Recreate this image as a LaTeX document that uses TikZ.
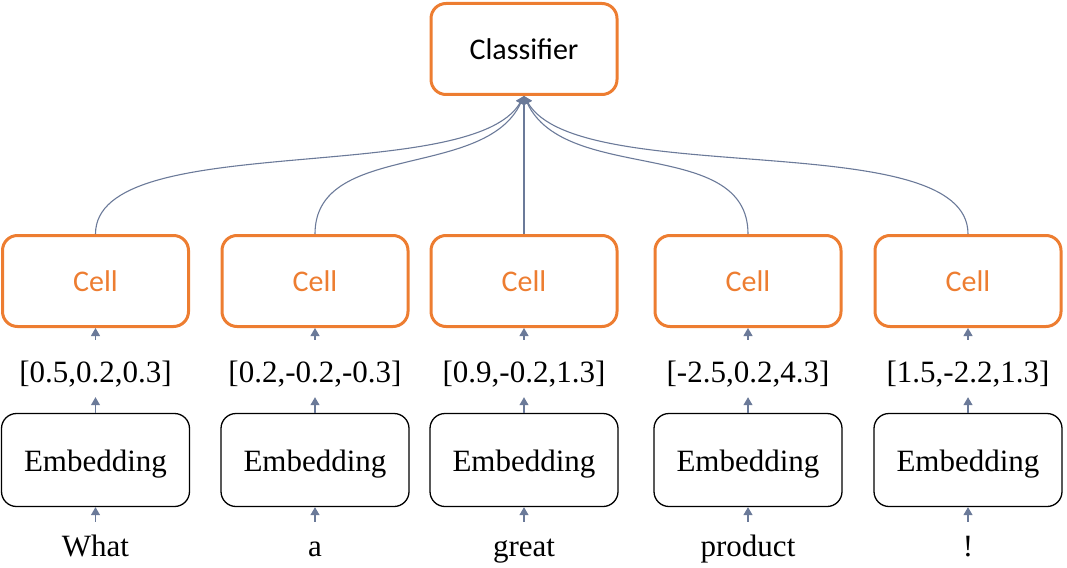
\documentclass[tikz,border=0pt]{standalone}
\usepackage{fontspec}
\usepackage{xcolor}
\usepackage{tikz}
\usetikzlibrary{arrows.meta}
\setmainfont{Liberation Serif}
\newfontfamily\calibri{Carlito}
\definecolor{cellorange}{HTML}{ED7D31}
\definecolor{arrowgrey}{HTML}{6B7A99}

\begin{document}
\begin{tikzpicture}[x=1pt, y=1pt]
    % Define the style for the nodes
    \tikzstyle{cell} = [draw=cellorange, line width=3pt, rounded corners=15pt, minimum width=186pt, minimum height=91pt, text=cellorange, font=\calibri\fontsize{30}{36}\selectfont]
    \tikzstyle{embed} = [draw=black, line width=1.3pt, rounded corners=15pt, minimum width=188pt, minimum height=93pt, text height=22pt, text depth=0pt, font=\fontsize{31}{37}\selectfont]
    \tikzstyle{vec} = [text height=21pt, text depth=7pt, inner ysep=8pt, font=\fontsize{31}{37}\selectfont]
    \tikzstyle{word} = [text height=20pt, text depth=6pt, inner ysep=14pt, font=\fontsize{31}{37}\selectfont]
    \tikzstyle{line} = [draw=arrowgrey, line width=1.1pt, -{Triangle[width=9pt,length=8pt]}]

    \useasboundingbox (0,0) rectangle (1067,-567);

    % Place the nodes
    \node [cell, text=black] (classifier) at (524,-49) {Classifier};

    \node [cell] (cellA) at (95.5,-281) {Cell};
    \node [cell] (cellB) at (315,-281) {Cell};
    \node [cell] (cellC) at (524,-281) {Cell};
    \node [cell] (cellD) at (748,-281) {Cell};
    \node [cell] (cellE) at (968,-281) {Cell};

    \node [vec, below of=cellA, node distance=94pt] (vecA) {[0.5,0.2,0.3]};
    \node [vec, below of=cellB, node distance=94pt] (vecB) {[0.2,-0.2,-0.3]};
    \node [vec, below of=cellC, node distance=94pt] (vecC) {[0.9,-0.2,1.3]};
    \node [vec, below of=cellD, node distance=94pt] (vecD) {[-2.5,0.2,4.3]};
    \node [vec, below of=cellE, node distance=94pt] (vecE) {[1.5,-2.2,1.3]};

    \node [embed, below of=vecA, node distance=85pt] (embA) {Embedding};
    \node [embed, below of=vecB, node distance=85pt] (embB) {Embedding};
    \node [embed, below of=vecC, node distance=85pt] (embC) {Embedding};
    \node [embed, below of=vecD, node distance=85pt] (embD) {Embedding};
    \node [embed, below of=vecE, node distance=85pt] (embE) {Embedding};

    \node [word, below of=embA, node distance=89pt] (wordA) {What};
    \node [word, below of=embB, node distance=89pt] (wordB) {a};
    \node [word, below of=embC, node distance=89pt] (wordC) {great};
    \node [word, below of=embD, node distance=89pt] (wordD) {product};
    \node [word, below of=embE, node distance=89pt] (wordE) {!};

    % Connect the nodes with paths
    \path [line] (wordA.north) -- (embA.south);
    \path [line] (wordB.north) -- (embB.south);
    \path [line] (wordC.north) -- (embC.south);
    \path [line] (wordD.north) -- (embD.south);
    \path [line] (wordE.north) -- (embE.south);

    \path [line] (embA.north) -- (vecA.south);
    \path [line] (embB.north) -- (vecB.south);
    \path [line] (embC.north) -- (vecC.south);
    \path [line] (embD.north) -- (vecD.south);
    \path [line] (embE.north) -- (vecE.south);

    \path [line, shorten <=13pt] (vecA.north) -- (cellA.south);
    \path [line, shorten <=13pt] (vecB.north) -- (cellB.south);
    \path [line, shorten <=13pt] (vecC.north) -- (cellC.south);
    \path [line, shorten <=13pt] (vecD.north) -- (cellD.south);
    \path [line, shorten <=13pt] (vecE.north) -- (cellE.south);

    \path [line] (cellA.north) to [out=90, in=-120, looseness=0.6] (classifier.south);
    \path [line] (cellB.north) to [out=90, in=-115, looseness=0.95] (classifier.south);
    \path [line] (cellC.north) -- (classifier.south);
    \path [line] (cellD.north) to [out=90, in=-65, looseness=0.95] (classifier.south);
    \path [line] (cellE.north) to [out=90, in=-60, looseness=0.6] (classifier.south);

\end{tikzpicture}
\end{document}
